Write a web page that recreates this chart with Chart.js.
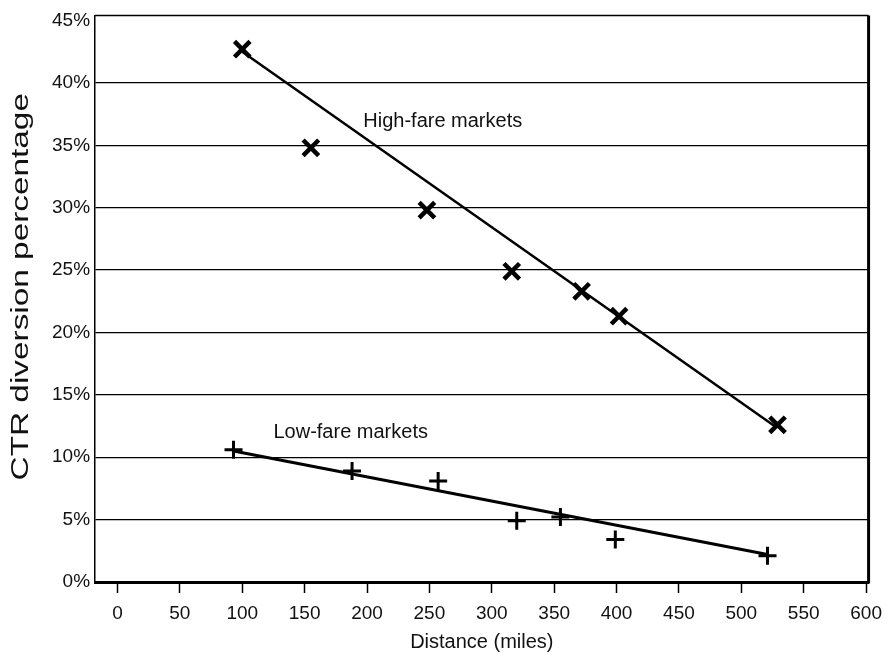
<!DOCTYPE html>
<html>
<head>
<meta charset="utf-8">
<script src="https://cdn.jsdelivr.net/npm/chart.js@4/dist/chart.umd.min.js"></script>
<style>
  html, body { margin: 0; padding: 0; background: #fff; }
  #wrap { width: 891px; height: 655px; }
</style>
</head>
<body>
<div id="wrap"><canvas id="ctrChart"></canvas></div>
<script>
// values (distance in miles, diversion in %)
const highDist = [100, 155, 248, 316, 372, 402, 529];
const highPct = [42.7, 34.8, 29.8, 24.9, 23.3, 21.3, 12.6];
const lowDist = [93, 188, 257, 320, 355, 399, 521];
const lowPct = [10.6, 8.9, 8.1, 4.9, 5.2, 3.4, 2.1];

// fitted lines, endpoints
const highFitDist = [100, 528];
const highFitPct = [42.5, 12.4];
const lowFitDist = [93, 521];
const lowFitPct = [10.5, 2.2];

const xTicks = [0, 50, 100, 150, 200, 250, 300, 350, 400, 450, 500, 550, 600];
const yTicks = [0, 5, 10, 15, 20, 25, 30, 35, 40, 45];

const notes = [
    { text: 'High-fare markets', x: 197, y: 36.9 },
    { text: 'Low-fare markets', x: 125, y: 12.0 }
];
const yTitle = 'CTR diversion percentage';

const toPoints = (xs, ys) => xs.map((x, i) => ({ x: x, y: ys[i] }));
const FONT = '"Liberation Sans", Arial, Helvetica, sans-serif';

// frame, text labels, and the (long, narrow) y title
const framePlugin = {
    id: 'frame',
    afterDraw(chart) {
        const { ctx, chartArea: a, scales } = chart;
        ctx.save();
        ctx.strokeStyle = '#000';
        ctx.lineWidth = 1.5;
        ctx.beginPath();
        ctx.moveTo(a.left, a.top);
        ctx.lineTo(a.right, a.top);
        ctx.stroke();
        ctx.lineWidth = 3;
        ctx.beginPath();
        ctx.moveTo(a.right, a.top);
        ctx.lineTo(a.right, a.bottom + 1.5);
        ctx.stroke();

        ctx.fillStyle = '#111';
        ctx.font = '20px ' + FONT;
        ctx.textBaseline = 'middle';
        ctx.textAlign = 'left';
        notes.forEach(n => {
            ctx.fillText(n.text, scales.x.getPixelForValue(n.x), scales.y.getPixelForValue(n.y));
        });

        ctx.translate(22, (a.top + a.bottom) / 2 - 12);
        ctx.rotate(-Math.PI / 2);
        ctx.scale(1.45, 1);
        ctx.font = '23px ' + FONT;
        ctx.textAlign = 'center';
        ctx.fillText(yTitle, 0, 0);
        ctx.restore();
    }
};

new Chart(document.getElementById('ctrChart').getContext('2d'), {
    type: 'scatter',
    data: {
        datasets: [{
            label: 'High-fare markets',
            data: toPoints(highDist, highPct),
            pointStyle: 'crossRot',
            radius: 11,
            borderWidth: 4.5,
            borderColor: '#000',
            backgroundColor: '#000'
        },
        {
            label: 'Low-fare markets',
            data: toPoints(lowDist, lowPct),
            pointStyle: 'cross',
            radius: 9,
            borderWidth: 3,
            borderColor: '#000',
            backgroundColor: '#000'
        },
        {
            type: 'line',
            label: 'High fit',
            data: toPoints(highFitDist, highFitPct),
            borderColor: '#000',
            borderWidth: 2.5,
            pointRadius: 0,
            fill: false
        },
        {
            type: 'line',
            label: 'Low fit',
            data: toPoints(lowFitDist, lowFitPct),
            borderColor: '#000',
            borderWidth: 3,
            pointRadius: 0,
            fill: false
        }]
    },
    options: {
        responsive: true,
        maintainAspectRatio: false,
        animation: false,
        layout: { padding: { top: 0, right: 18, bottom: 0, left: 47 } },
        plugins: {
            legend: { display: false },
            tooltip: { enabled: false }
        },
        scales: {
            x: {
                type: 'linear',
                min: -18,
                max: 602,
                afterBuildTicks: s => { s.ticks = xTicks.map(v => ({ value: v })); },
                afterFit: s => { s.height = 73; },
                ticks: {
                    color: '#111',
                    font: { family: FONT, size: 19 },
                    padding: 9,
                    maxRotation: 0
                },
                grid: {
                    drawOnChartArea: false,
                    drawTicks: true,
                    tickLength: 11,
                    tickColor: '#000',
                    tickWidth: 1.5
                },
                border: { color: '#000', width: 3 },
                title: {
                    display: true,
                    text: 'Distance (miles)',
                    color: '#111',
                    font: { family: FONT, size: 20, lineHeight: 1 },
                    padding: { top: 5, bottom: 3 }
                }
            },
            y: {
                type: 'linear',
                min: 0,
                max: 45.4,
                afterBuildTicks: s => { s.ticks = yTicks.map(v => ({ value: v })); },
                ticks: {
                    color: '#111',
                    font: { family: FONT, size: 19, lineHeight: 0.5 },
                    padding: 5,
                    callback: v => v + '%'
                },
                grid: {
                    color: c => (c.tick && c.tick.value === 45 ? 'rgba(0,0,0,0)' : '#000'),
                    lineWidth: 1.3,
                    drawTicks: false
                },
                border: { color: '#000', width: 1.5 }
            }
        }
    },
    plugins: [framePlugin]
});
</script>
</body>
</html>
